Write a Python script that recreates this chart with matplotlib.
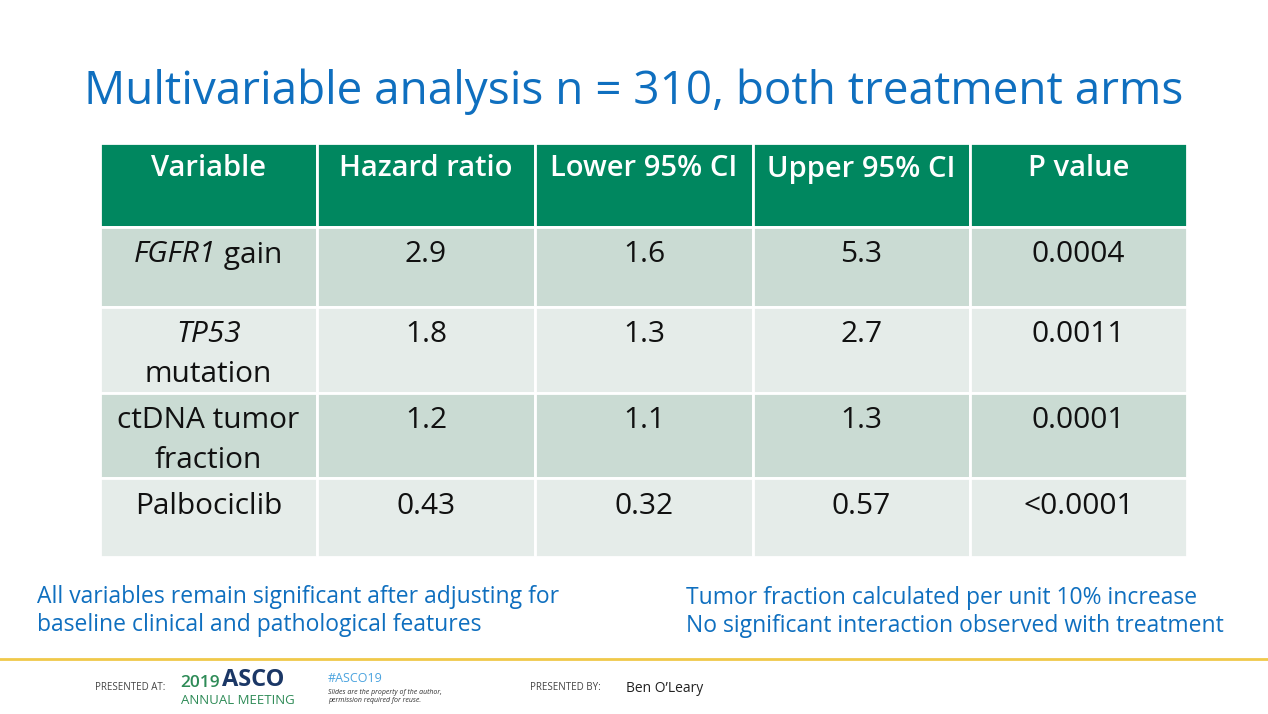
import matplotlib
matplotlib.use("Agg")
import matplotlib.pyplot as plt
from matplotlib.patches import Rectangle

plt.rcParams['font.family'] = ['Open Sans', 'DejaVu Sans']

title = "Multivariable analysis n = 310, both treatment arms"
columns = ["Variable", "Hazard ratio", "Lower 95% CI", "Upper 95% CI", "P value"]
variables = [("FGFR1", " gain"), ("TP53", "\nmutation"), ("", "ctDNA tumor\nfraction"), ("", "Palbociclib")]
hazard_ratio = ["2.9", "1.8", "1.2", "0.43"]
lower_ci = ["1.6", "1.3", "1.1", "0.32"]
upper_ci = ["5.3", "2.7", "1.3", "0.57"]
p_value = ["0.0004", "0.0011", "0.0001", "<0.0001"]
note_left = ["All variables remain significant after adjusting for",
             "baseline clinical and pathological features"]
note_right = ["Tumor fraction calculated per unit 10% increase",
              "No significant interaction observed with treatment"]

W, H = 1268, 714
fig = plt.figure(figsize=(W / 100, H / 100), dpi=100)
ax = fig.add_axes([0, 0, 1, 1])
ax.set_xlim(0, W)
ax.set_ylim(H, 0)
ax.axis('off')

blue = '#0F6FBF'
green = '#00875F'
row_colors = ['#CADBD3', '#E5ECE9']
body_fs = 21.5
ink = '#111111'

ax.text(634, 92, title, ha='center', va='center', fontsize=33, color=blue)

col_edges = [100, 317, 535, 753, 970, 1187]
row_edges = [143, 227, 307, 393, 478, 557]

# header
for i, c in enumerate(columns):
    x0, x1 = col_edges[i], col_edges[i + 1]
    ax.add_patch(Rectangle((x0, row_edges[0]), x1 - x0, row_edges[1] - row_edges[0],
                           facecolor=green, edgecolor='white', linewidth=2))
    ax.text((x0 + x1) / 2, 169, c, ha='center', va='center', fontsize=21,
            color='white', fontweight='semibold')

fig.canvas.draw()
renderer = fig.canvas.get_renderer()

values = [hazard_ratio, lower_ci, upper_ci, p_value]
for r in range(len(variables)):
    y0, y1 = row_edges[r + 1], row_edges[r + 2]
    for i in range(len(columns)):
        x0, x1 = col_edges[i], col_edges[i + 1]
        ax.add_patch(Rectangle((x0, y0), x1 - x0, y1 - y0,
                               facecolor=row_colors[r % 2], edgecolor='white', linewidth=2))
    ty = y0 + 28
    cx = (col_edges[0] + col_edges[1]) / 2
    ital, rest = variables[r]
    if ital and not rest.startswith("\n"):
        t1 = ax.text(cx, ty, ital, ha='left', va='center', fontsize=body_fs, style='italic', color=ink)
        t2 = ax.text(cx, ty, rest, ha='left', va='center', fontsize=body_fs, color=ink)
        w1 = t1.get_window_extent(renderer).width
        w2 = t2.get_window_extent(renderer).width
        start = cx - (w1 + w2) / 2
        t1.set_x(start)
        t2.set_x(start + w1)
    elif ital:
        ax.text(cx, ty, ital, ha='center', va='center', fontsize=body_fs, style='italic', color=ink)
        ax.text(cx, ty + 39, rest.strip(), ha='center', va='center', fontsize=body_fs, color=ink)
    else:
        lines = rest.split("\n")
        for k, ln in enumerate(lines):
            ax.text(cx, ty + 39 * k, ln, ha='center', va='center', fontsize=body_fs, color=ink)
    for i, col in enumerate(values):
        x0, x1 = col_edges[i + 1], col_edges[i + 2]
        ax.text((x0 + x1) / 2, ty, col[r], ha='center', va='center', fontsize=body_fs, color=ink)

for k, ln in enumerate(note_left):
    ax.text(37, 597 + 28 * k, ln, ha='left', va='center', fontsize=16.5, color=blue)
for k, ln in enumerate(note_right):
    ax.text(686, 598 + 28 * k, ln, ha='left', va='center', fontsize=16.5, color=blue)

# footer
ax.plot([0, W], [659, 659], color='#F0C94A', linewidth=2)
ax.text(95, 688, "PRESENTED AT:", ha='left', va='center', fontsize=7, color='#444444')
ax.text(180, 683, "2019", ha='left', va='center', fontsize=12.5, color='#2E8B57', fontweight='semibold')
ax.text(222, 680, "ASCO", ha='left', va='center', fontsize=17, color='#1B3766', fontweight='bold')
ax.text(181, 700, "ANNUAL MEETING", ha='left', va='center', fontsize=9.5, color='#2E8B57')
ax.text(328, 678, "#ASCO19", ha='left', va='center', fontsize=9, color='#4AA3DF')
ax.text(328, 692, "Slides are the property of the author,", ha='left', va='center', fontsize=5, style='italic', color='#333333')
ax.text(328, 701, "permission required for reuse.", ha='left', va='center', fontsize=5, style='italic', color='#333333')
ax.text(530, 688, "PRESENTED BY:", ha='left', va='center', fontsize=7, color='#444444')
ax.text(626, 688, "Ben O\u2019Leary", ha='left', va='center', fontsize=10, color='#222222')

fig.savefig("out.png", dpi=100)
